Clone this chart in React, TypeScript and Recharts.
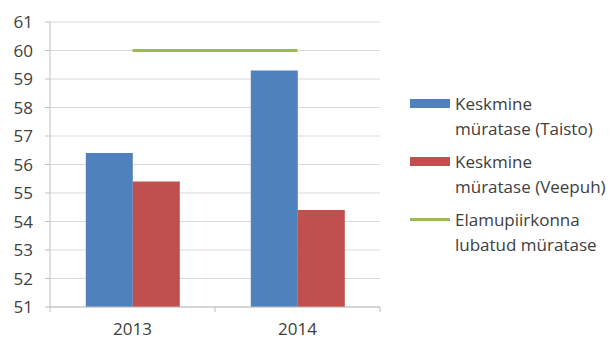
import { Bar, ComposedChart, Legend, Line, XAxis, YAxis, CartesianGrid } from "recharts"

const years = ["2013", "2014"]
const taisto = [56.4, 59.3]
const veepuh = [55.4, 54.4]
const allowedLevel = [60, 60]
const yTicks = [51, 52, 53, 54, 55, 56, 57, 58, 59, 60, 61]

const seriesNames = {
  taisto: "Keskmine müratase (Taisto)",
  veepuh: "Keskmine müratase (Veepuh)",
  limit: "Elamupiirkonna lubatud müratase",
}
const legendOrder = ["taisto", "veepuh", "limit"]

const WIDTH = 613
const HEIGHT = 341
const MARGIN = { top: 22, right: 233, bottom: 0, left: 0 }
const Y_AXIS_WIDTH = 50
const X_AXIS_HEIGHT = 34
const FONT = "'Open Sans', 'Liberation Sans', sans-serif"
const TEXT_COLOR = "#404040"
const AXIS_COLOR = "#bfbfbf"

const data = years.map((year, i) => ({
  year,
  taisto: taisto[i],
  veepuh: veepuh[i],
  limit: allowedLevel[i],
}))

// width of one category band, used for the tick marks between categories
const bandWidth = (WIDTH - MARGIN.left - MARGIN.right - Y_AXIS_WIDTH) / years.length

// x tick: label at the band centre, short marks on the band edges
function CategoryTick(props: any) {
  const { x, y, payload, index } = props
  const half = bandWidth / 2
  return (
    <g>
      {index === 0 && <line x1={x - half} x2={x - half} y1={y} y2={y + 5} stroke={AXIS_COLOR} />}
      <line x1={x + half} x2={x + half} y1={y} y2={y + 5} stroke={AXIS_COLOR} />
      <text x={x} y={y + 16} dy="0.71em" textAnchor="middle" fill={TEXT_COLOR} fontSize={17} fontFamily={FONT}>
        {payload.value}
      </text>
    </g>
  )
}

function WrappedLegend(props: any) {
  const entries = [...(props.payload ?? [])].sort(
    (a: any, b: any) => legendOrder.indexOf(a.dataKey) - legendOrder.indexOf(b.dataKey)
  )
  return (
    <div style={{ fontFamily: FONT, fontSize: 17, color: TEXT_COLOR, lineHeight: "25px", textAlign: "left" }}>
      {entries.map((entry: any) => {
        const label: string = entry.value
        const split = label.indexOf(" ")
        const isLine = entry.type === "line"
        return (
          <div key={label} style={{ display: "flex", alignItems: "flex-start", marginBottom: 8 }}>
            <div style={{ width: 40, height: 25, display: "flex", alignItems: "center", marginRight: 5 }}>
              <div style={{ width: 40, height: isLine ? 3 : 9, background: entry.color }} />
            </div>
            <div>
              <div>{label.slice(0, split)}</div>
              <div>{label.slice(split + 1)}</div>
            </div>
          </div>
        )
      })}
    </div>
  )
}

export default function App() {
  return (
    <div style={{ width: WIDTH, height: HEIGHT, background: "#fff" }}>
      <style>{`body { margin: 0; }`}</style>
      <ComposedChart
        width={WIDTH}
        height={HEIGHT}
        data={data}
        margin={MARGIN}
        barCategoryGap="21.7%"
        barGap={0}
      >
        <CartesianGrid vertical={false} stroke="#d9d9d9" />
        <XAxis
          dataKey="year"
          height={X_AXIS_HEIGHT}
          stroke={AXIS_COLOR}
          tickLine={false}
          tickSize={0}
          tickMargin={0}
          tick={<CategoryTick />}
          interval={0}
        />
        <YAxis
          width={Y_AXIS_WIDTH}
          domain={[51, 61]}
          ticks={yTicks}
          interval={0}
          stroke={AXIS_COLOR}
          tickSize={5}
          tickMargin={12}
          tick={{ fill: TEXT_COLOR, fontSize: 17, fontFamily: FONT }}
        />
        <Legend
          layout="vertical"
          align="center"
          verticalAlign="middle"
          wrapperStyle={{ left: 410, top: 91, width: 200 }}
          content={<WrappedLegend />}
        />
        <Bar dataKey="taisto" name={seriesNames.taisto} fill="#4f81bd" legendType="rect" isAnimationActive={false} />
        <Bar dataKey="veepuh" name={seriesNames.veepuh} fill="#c0504d" legendType="rect" isAnimationActive={false} />
        <Line
          dataKey="limit"
          name={seriesNames.limit}
          stroke="#9bbb59"
          strokeWidth={3}
          dot={false}
          legendType="line"
          isAnimationActive={false}
        />
      </ComposedChart>
    </div>
  )
}
